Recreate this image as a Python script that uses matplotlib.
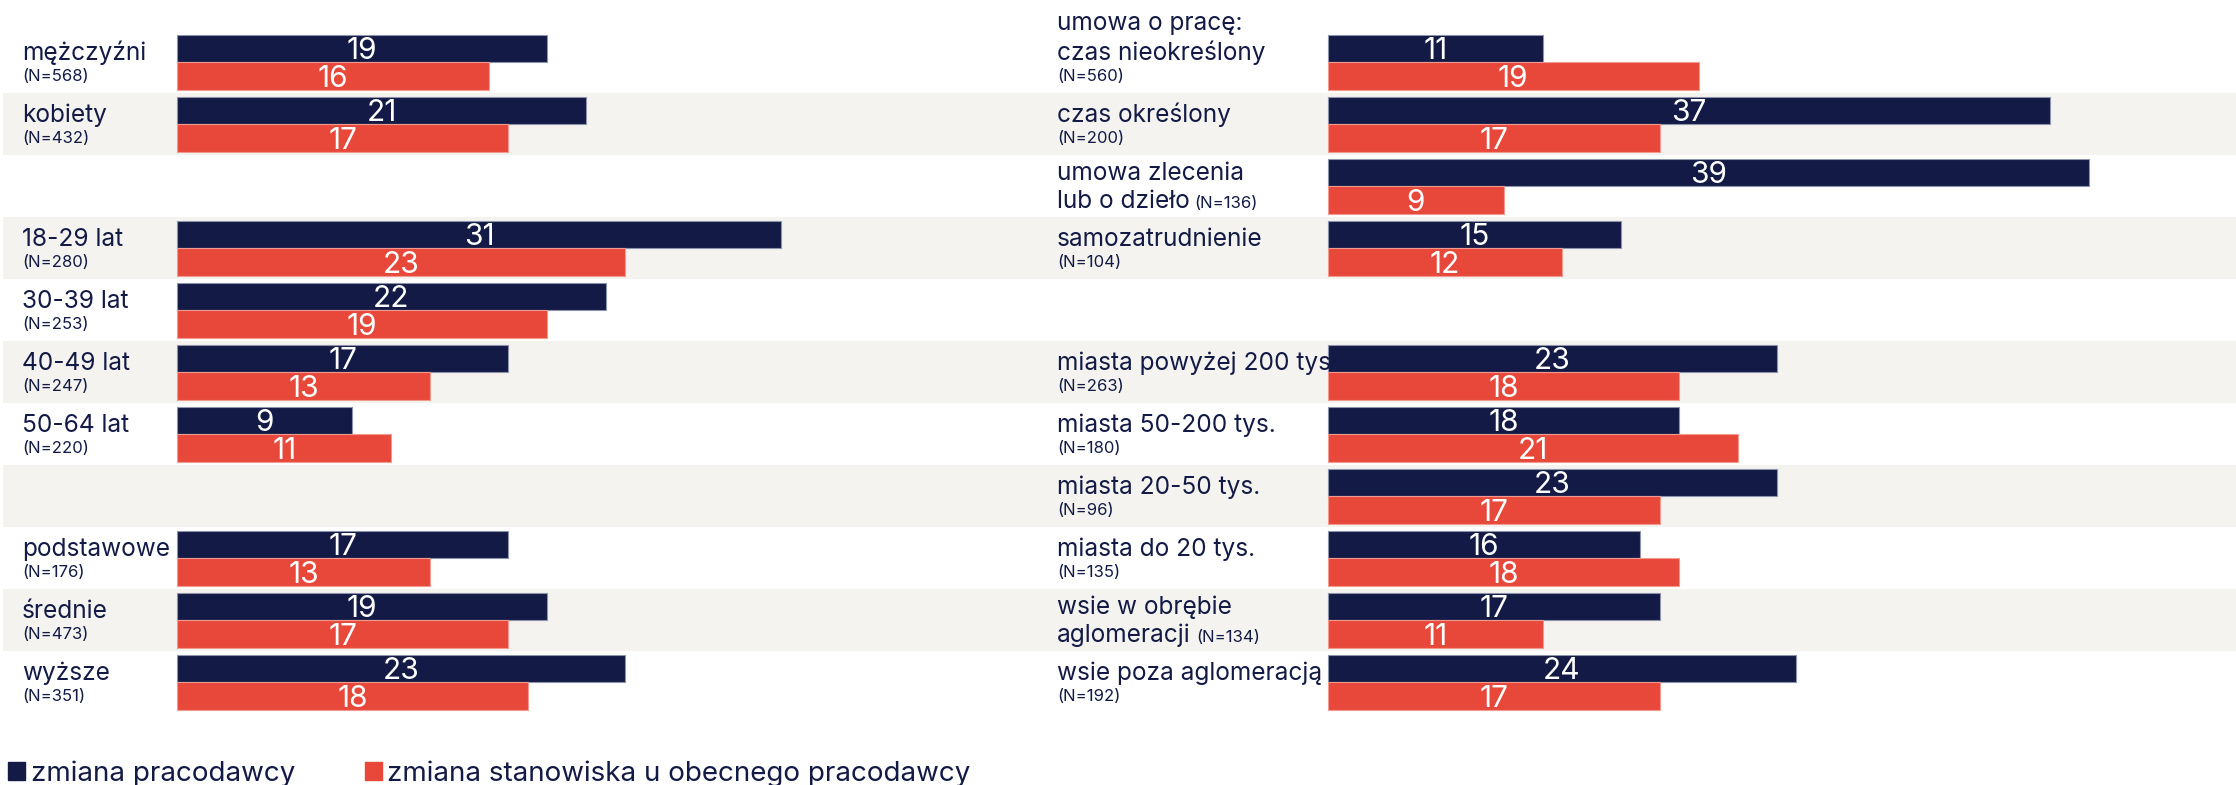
import matplotlib
matplotlib.use("Agg")
import matplotlib.pyplot as plt
from matplotlib.patches import Patch

plt.rcParams['font.family'] = ['Inter', 'DejaVu Sans']

NAVY = '#121a45'
RED = '#e8483a'
BAND = '#f4f3ef'
TEXT = '#121a45'

# left panel: gender, age, education
left_labels = ["mężczyźni", "kobiety", None, "18-29 lat", "30-39 lat", "40-49 lat",
               "50-64 lat", None, "podstawowe", "średnie", "wyższe"]
left_n = ["568", "432", None, "280", "253", "247", "220", None, "176", "473", "351"]
left_employer = [19, 21, None, 31, 22, 17, 9, None, 17, 19, 23]
left_position = [16, 17, None, 23, 19, 13, 11, None, 13, 17, 18]

# right panel: contract type, place of residence
right_labels = ["umowa o pracę:\nczas nieokreślony", "czas określony",
                "umowa zlecenia\nlub o dzieło", "samozatrudnienie", None,
                "miasta powyżej 200 tys.", "miasta 50-200 tys.", "miasta 20-50 tys.",
                "miasta do 20 tys.", "wsie w obrębie\naglomeracji", "wsie poza aglomeracją"]
right_n = ["560", "200", "136", "104", None, "263", "180", "96", "135", "134", "192"]
right_n_inline = [False, False, True, False, False, False, False, False, False, True, False]
right_employer = [11, 37, 39, 15, None, 23, 18, 23, 16, 17, 24]
right_position = [19, 17, 9, 12, None, 18, 21, 17, 18, 11, 17]

legend_labels = ["zmiana pracodawcy", "zmiana stanowiska u obecnego pracodawcy"]

W, H = 2236, 785
PX_PER_UNIT = 19.5
ROW_TOP, ROW_BOTTOM = 31.3, 713.3
ROW_PX = (ROW_BOTTOM - ROW_TOP) / 11
LABEL_FS = 17.6
N_FS = 12

fig = plt.figure(figsize=(W / 100, H / 100), dpi=100)
fig.patch.set_facecolor('white')

ybot = 1 - ROW_BOTTOM / H
yh = (ROW_BOTTOM - ROW_TOP) / H

# background bands
bg = fig.add_axes([3 / W, ybot, 1 - 3 / W, yh])
bg.set_ylim(10.5, -0.5)
bg.set_xlim(0, 1)
for i in range(11):
    if i % 2 == 1:
        bg.axhspan(i - 0.5, i + 0.5, color=BAND, lw=0)
bg.axis('off')


def panel(x0, x1, zero, labels, ns, emp, pos, inline, label_x):
    ax = fig.add_axes([x0 / W, ybot, (x1 - x0) / W, yh])
    ax.set_facecolor('none')
    ax.set_xlim(-(zero - x0) / PX_PER_UNIT, (x1 - zero) / PX_PER_UNIT)
    ax.set_ylim(10.5, -0.5)
    ax.axis('off')
    rows = [i for i in range(len(labels)) if labels[i] is not None]
    h = 0.447
    ax.barh([i - 0.224 for i in rows], [emp[i] for i in rows], height=h,
            color=NAVY, edgecolor='#8d93ab', lw=0.8)
    ax.barh([i + 0.224 for i in rows], [pos[i] for i in rows], height=h,
            color=RED, edgecolor='#f29a90', lw=0.8)
    dy = 11 / ROW_PX
    for i in rows:
        ax.text(emp[i] / 2, i - 0.224 + dy, str(emp[i]), ha='center', va='baseline',
                color='white', fontsize=21.5)
        ax.text(pos[i] / 2, i + 0.224 + dy, str(pos[i]), ha='center', va='baseline',
                color='white', fontsize=21.5)

    tr = ax.get_yaxis_transform()
    lx = (label_x - x0) / (x1 - x0)
    for i in rows:
        lines = labels[i].split('\n')
        ntxt = f"(N={ns[i]})"
        if len(lines) == 1:
            ax.text(lx, i - 2 / ROW_PX, lines[0], transform=tr, va='baseline',
                    fontsize=LABEL_FS, color=TEXT)
            ax.text(lx, i + 19 / ROW_PX, ntxt, transform=tr, va='baseline',
                    fontsize=N_FS, color=TEXT)
        elif inline[i]:
            ax.text(lx, i - 6 / ROW_PX, lines[0], transform=tr, va='baseline',
                    fontsize=LABEL_FS, color=TEXT)
            t2 = ax.text(lx, i + 22 / ROW_PX, lines[1], transform=tr, va='baseline',
                         fontsize=LABEL_FS, color=TEXT)
            ax.annotate(ntxt, xy=(1, 0), xycoords=t2, xytext=(5, 2),
                        textcoords='offset pixels', va='bottom',
                        fontsize=N_FS, color=TEXT)
        else:
            ax.text(lx, i - 32 / ROW_PX, lines[0], transform=tr, va='baseline',
                    fontsize=LABEL_FS, color=TEXT)
            ax.text(lx, i - 2 / ROW_PX, lines[1], transform=tr, va='baseline',
                    fontsize=LABEL_FS, color=TEXT)
            ax.text(lx, i + 19 / ROW_PX, ntxt, transform=tr, va='baseline',
                    fontsize=N_FS, color=TEXT)
    return ax


panel(3, 1040, 177, left_labels, left_n, left_employer, left_position,
      [False] * 11, 22)
panel(1040, W, 1328, right_labels, right_n, right_employer, right_position,
      right_n_inline, 1057)

handles = [Patch(color=NAVY), Patch(color=RED)]
fig.legend(handles, legend_labels, loc='lower left', bbox_to_anchor=(8 / W, -2 / H),
           ncol=2, frameon=False, fontsize=20, handlelength=0.62, handleheight=0.62,
           handletextpad=0.2, columnspacing=2.5, borderpad=0, borderaxespad=0,
           labelcolor=TEXT)

fig.savefig('out.png', dpi=100, facecolor='white')
